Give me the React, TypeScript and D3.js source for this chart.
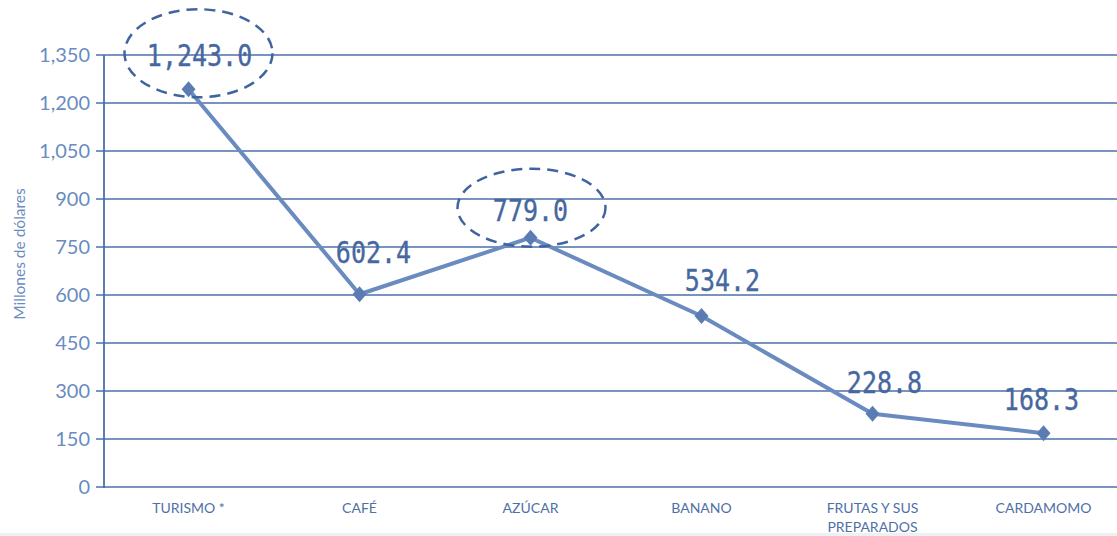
import React from "react";
import * as d3 from "d3";

const categories = ["TURISMO *", "CAFÉ", "AZÚCAR", "BANANO", "FRUTAS Y SUS PREPARADOS", "CARDAMOMO"];
const categoryLines = [["TURISMO *"], ["CAFÉ"], ["AZÚCAR"], ["BANANO"], ["FRUTAS Y SUS", "PREPARADOS"], ["CARDAMOMO"]];
const values = [1243.0, 602.4, 779.0, 534.2, 228.8, 168.3];
const valueLabels = ["1,243.0", "602.4", "779.0", "534.2", "228.8", "168.3"];
const yTicks = [0, 150, 300, 450, 600, 750, 900, 1050, 1200, 1350];
const circled = [true, false, true, false, false, false];
const yTitle = "Millones de dólares";

const W = 1117;
const H = 536;
const left = 104;
const top = 55;
const bottom = 487;

// label offsets relative to point (dx, dy of baseline)
const labelDx = [11, 14, 0, 21, 12, -2];
const labelDy = [-23, -31, -17, -25, -21, -23];
const ellipseDx = [10, 0, 1, 0, 0, 0];

export default function App() {
  const x = d3.scaleBand<string>().domain(categories).range([left - 1, left - 1 + 171 * 6]);
  const y = d3.scaleLinear().domain([0, 1350]).range([bottom, top]);
  const fmt = d3.format(",");
  const cx = (c: string) => (x(c) as number) + x.bandwidth() / 2;
  const pts = categories.map((c, i) => [cx(c), y(values[i])] as [number, number]);
  const line = d3.line()(pts) as string;
  const axisColor = "#4a6fa8";
  const textColor = "#6a8cc0";
  const labelColor = "#46689f";

  return (
    <svg width={W} height={H} style={{ position: "absolute", left: 0, top: 0, background: "#fff" }}>
      {/* gridlines */}
      {yTicks.map((t) => (
        <g key={t}>
          <line x1={left - 8} x2={W} y1={y(t)} y2={y(t)} stroke={axisColor} strokeWidth={1.6} />
          <text x={90} y={y(t) + 7} textAnchor="end" fontFamily="Lato, 'Open Sans', sans-serif" fontSize={20} fill={textColor}>
            {fmt(t)}
          </text>
        </g>
      ))}
      <line x1={left} x2={left} y1={top} y2={bottom + 1} stroke={axisColor} strokeWidth={1.8} />
      <text
        transform={`translate(25,254) rotate(-90)`}
        textAnchor="middle"
        fontFamily="Lato, 'Open Sans', sans-serif"
        fontSize={15.5}
        fill={textColor}
      >
        {yTitle}
      </text>
      {/* category labels */}
      {categories.map((c, i) => (
        <text key={c} x={cx(c)} y={513} textAnchor="middle" fontFamily="Lato, 'Open Sans', sans-serif" fontSize={14} fill="#4f70a6">
          {categoryLines[i].map((l, j) => (
            <tspan key={j} x={cx(c)} dy={j === 0 ? 0 : 19}>
              {l}
            </tspan>
          ))}
        </text>
      ))}
      {/* line */}
      <path d={line} fill="none" stroke="#6a8bbf" strokeWidth={4} strokeLinejoin="round" />
      {pts.map(([px, py], i) => (
        <path key={i} d={`M${px},${py - 8}L${px + 7},${py}L${px},${py + 8}L${px - 7},${py}Z`} fill="#5a7cb2" />
      ))}
      {/* value labels */}
      {pts.map(([px, py], i) => (
        <text
          key={"l" + i}
          transform={`translate(${px + labelDx[i]},${py + labelDy[i]}) scale(1,1.2)`}
          textAnchor="middle"
          fontFamily="'DejaVu Sans Mono', 'Liberation Mono', monospace"
          fontSize={25}
          fill={labelColor}
          stroke={labelColor}
          strokeWidth={0.3}
        >
          {valueLabels[i]}
        </text>
      ))}
      {/* dashed ellipses */}
      {pts.map(([px, py], i) =>
        circled[i] ? (
          <ellipse
            key={"e" + i}
            cx={px + ellipseDx[i]}
            cy={py + labelDy[i] - 13}
            rx={74}
            ry={i === 0 ? 44 : 39}
            fill="none"
            stroke="#3f64a0"
            strokeWidth={2.5}
            strokeDasharray="11 7"
          />
        ) : null
      )}
      {/* bottom shadow */}
      <rect x={0} y={533} width={W} height={3} fill="#eef1f4" />
    </svg>
  );
}
